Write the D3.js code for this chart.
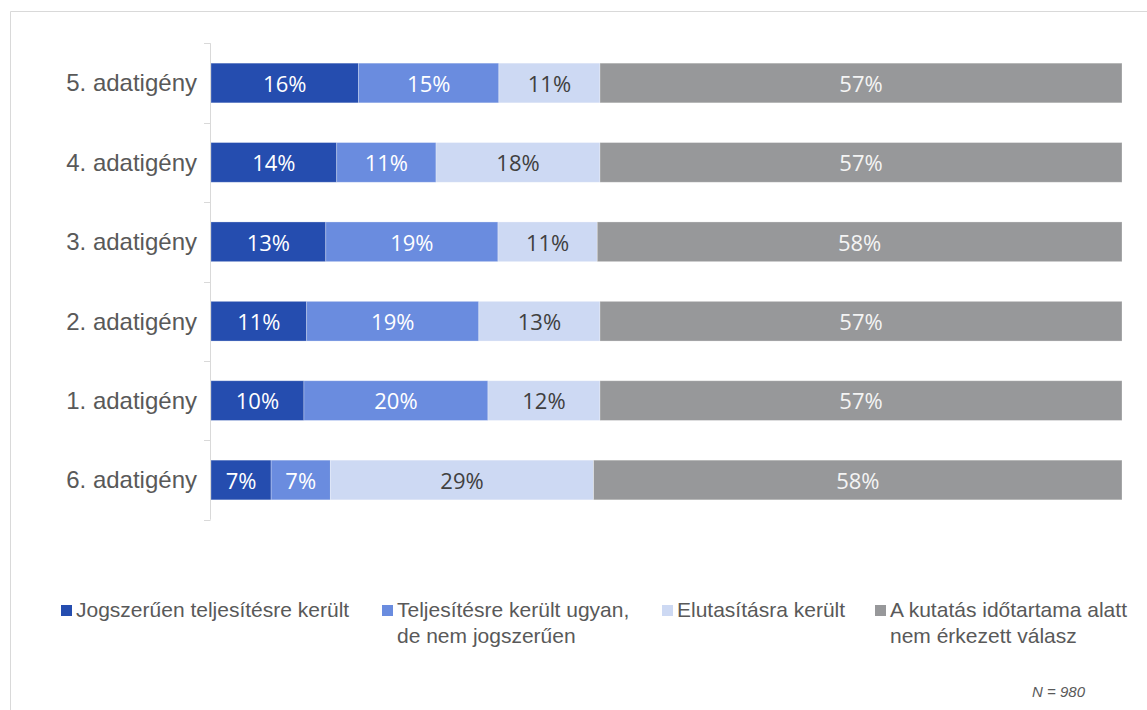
<!DOCTYPE html>
<html lang="hu">
<head>
  <meta charset="UTF-8">
  <title>Adatigények teljesítése</title>
  <script src="https://d3js.org/d3.v7.min.js"></script>
  <style>
    body {
      margin: 0;
      background: #fff;
    }
    svg {
      display: block;
    }
    .cat-label {
      font-family: "Liberation Sans", Arial, sans-serif;
      font-size: 24px;
      fill: #595959;
    }
    .val-label {
      font-family: "Open Sans", "Segoe UI", sans-serif;
      font-size: 22px;
    }
    .legend text {
      font-family: "Liberation Sans", Arial, sans-serif;
      font-size: 21px;
      fill: #595959;
    }
    .note {
      font-family: "Liberation Sans", Arial, sans-serif;
      font-size: 15px;
      font-style: italic;
      fill: #595959;
    }
  </style>
</head>
<body>
  <svg width="1147" height="710"></svg>

  <script>
    // categories, top to bottom
    const categories = ["5. adatigény", "4. adatigény", "3. adatigény", "2. adatigény", "1. adatigény", "6. adatigény"];

    // series values (%), one per category
    const jogszeru   = [16.2, 13.8, 12.6, 10.5, 10.2, 6.6];
    const nemJogszeru = [15.4, 10.9, 18.9, 18.9, 20.2, 6.5];
    const elutasitva = [11.1, 18.0, 10.9, 13.3, 12.3, 28.9];
    const nincsValasz = [57.3, 57.3, 57.6, 57.3, 57.3, 58.0];

    const seriesKeys = ["jogszeru", "nemJogszeru", "elutasitva", "nincsValasz"];
    const seriesNames = [
      ["Jogszerűen teljesítésre került"],
      ["Teljesítésre került ugyan,", "de nem jogszerűen"],
      ["Elutasításra került"],
      ["A kutatás időtartama alatt", "nem érkezett válasz"]
    ];
    const colors = ["#254daf", "#6a8cdf", "#cdd9f3", "#97989a"];
    const textColors = ["#ffffff", "#ffffff", "#404040", "#f4f4f4"];

    const rows = categories.map((c, i) => ({
      cat: c,
      jogszeru: jogszeru[i],
      nemJogszeru: nemJogszeru[i],
      elutasitva: elutasitva[i],
      nincsValasz: nincsValasz[i]
    }));

    const svg = d3.select("svg");

    // outer frame (top and left edge visible)
    svg.append("path")
      .attr("d", "M10.5,710 V11.5 H1147")
      .attr("fill", "none")
      .attr("stroke", "#d9d9d9")
      .attr("stroke-width", 1);

    const x = d3.scaleLinear().domain([0, 100]).range([211, 1122]);
    const y = d3.scaleBand()
      .domain(categories)
      .range([43.3, 519.7])
      .paddingInner(0.5)
      .paddingOuter(0.25);

    const stacked = d3.stack().keys(seriesKeys)(rows);

    const layers = svg.append("g")
      .selectAll("g")
      .data(stacked)
      .join("g")
      .attr("fill", (d, i) => colors[i]);

    layers.selectAll("rect")
      .data(d => d)
      .join("rect")
      .attr("x", d => x(d[0]))
      .attr("y", d => y(d.data.cat))
      .attr("width", d => x(d[1]) - x(d[0]))
      .attr("height", y.bandwidth())
      .attr("stroke", "#ffffff")
      .attr("stroke-opacity", 0.35)
      .attr("stroke-width", 0.8);

    layers.each(function(layer, i) {
      d3.select(this).selectAll("text")
        .data(layer)
        .join("text")
        .attr("class", "val-label")
        .attr("x", d => (x(d[0]) + x(d[1])) / 2)
        .attr("y", d => y(d.data.cat) + y.bandwidth() / 2)
        .attr("dy", "0.4em")
        .attr("text-anchor", "middle")
        .attr("fill", textColors[i])
        .text(d => Math.round(d[1] - d[0]) + "%");
    });

    // category axis: line with outward ticks at band boundaries
    const axisG = svg.append("g");
    const step = y.step();
    const y0 = y.range()[0];
    axisG.append("line")
      .attr("x1", 210.5).attr("x2", 210.5)
      .attr("y1", y0).attr("y2", y0 + step * categories.length)
      .attr("stroke", "#d9d9d9");
    d3.range(categories.length + 1).forEach(k => {
      axisG.append("line")
        .attr("x1", 204).attr("x2", 210.5)
        .attr("y1", Math.round(y0 + k * step) + 0.5)
        .attr("y2", Math.round(y0 + k * step) + 0.5)
        .attr("stroke", "#d9d9d9");
    });

    axisG.selectAll("text")
      .data(categories)
      .join("text")
      .attr("class", "cat-label")
      .attr("x", 197)
      .attr("y", d => y(d) + y.bandwidth() / 2)
      .attr("dy", "0.35em")
      .attr("text-anchor", "end")
      .text(d => d);

    // legend
    const legendX = [61, 382, 662, 875];
    const legend = svg.append("g").attr("class", "legend");
    seriesNames.forEach((lines, i) => {
      const item = legend.append("g").attr("transform", `translate(${legendX[i]},0)`);
      item.append("rect")
        .attr("x", 0).attr("y", 605)
        .attr("width", 11).attr("height", 11)
        .attr("fill", colors[i]);
      item.append("text")
        .selectAll("tspan")
        .data(lines)
        .join("tspan")
        .attr("x", 15)
        .attr("y", (d, k) => 617 + k * 26)
        .text(d => d);
    });

    svg.append("text")
      .attr("class", "note")
      .attr("x", 1085)
      .attr("y", 697)
      .attr("text-anchor", "end")
      .text("N = 980");
  </script>
</body>
</html>
